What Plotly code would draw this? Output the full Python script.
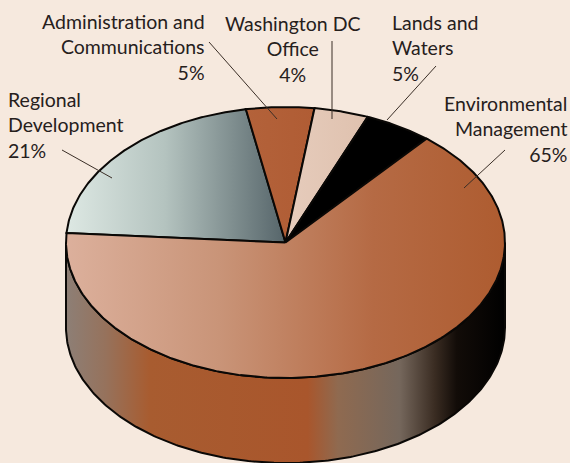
import numpy as np
import plotly.graph_objects as go

# ---- data ----
categories = ["Regional Development", "Administration and Communications",
              "Washington DC Office", "Lands and Waters", "Environmental Management"]
shares = [21, 5, 4, 5, 65]

# ---- styling / layout ----
BG = "#f6e9de"
FONT = "Lato"
FONT_SIZE = 19.5
CX, CY, RX, RY, DEPTH = 285.5, 242.5, 219.5, 135.5, 85
START_DEG = 176
slice_fills = [
    [[0, "#dde8e3"], [0.45, "#b4c3bf"], [1, "#56656a"]],
    [[0, "#b3623a"], [1, "#b05c34"]],
    [[0, "#e6ccbc"], [1, "#dfc1ae"]],
    [[0, "#000000"], [1, "#000000"]],
    [[0, "#dcb09c"], [0.35, "#c99478"], [0.7, "#b56a44"], [1, "#ae5c30"]],
]
wall_fill = [[0, "#8d7f76"], [0.09, "#96725c"], [0.19, "#a85c30"], [0.55, "#a9562c"],
             [0.62, "#8f6a50"], [0.76, "#75675c"], [0.84, "#3a2c22"], [0.89, "#120c08"], [1, "#000000"]]
label_text = ["Regional<br>Development<br>21%", "Administration and<br>Communications<br>5%",
              "Washington DC<br>Office<br>4%", "Lands and<br>Waters<br>5%",
              "Environmental<br>Management<br>65%"]
label_pos = [(8, 125, "left"), (205, 47, "right"), (293, 49, "center"), (392, 48, "left"), (567, 129, "right")]
leaders = [((62, 150), (112, 178)), ((209, 42), (277, 119)), ((332, 41), (332, 119)),
           ((436, 66), (387, 120)), ((505, 150), (464, 188))]


def ell(t, dy=0.0):
    return CX + RX * np.cos(t), CY - RY * np.sin(t) + dy


fig = go.Figure()

# side wall, front half of the ellipse
t_front = np.radians(np.linspace(180, 360, 241))
xu, yu = ell(t_front)
xl, yl = ell(t_front[::-1], DEPTH)
fig.add_trace(go.Scatter(
    x=np.r_[xu, xl, xu[0]], y=np.r_[yu, yl, yu[0]], mode="lines", fill="toself",
    line=dict(color="#0a0806", width=2),
    fillgradient=dict(type="horizontal", colorscale=wall_fill),
    hoverinfo="skip", showlegend=False))

# top face, one wedge per share
angle = START_DEG
for name, share, fill in zip(categories, shares, slice_fills):
    sweep = 360 * share / sum(shares)
    t = np.radians(np.linspace(angle, angle - sweep, max(int(sweep * 2), 4)))
    x, y = ell(t)
    fig.add_trace(go.Scatter(
        x=np.r_[CX, x, CX], y=np.r_[CY, y, CY], mode="lines", fill="toself", name=name,
        line=dict(color="#0a0806", width=2),
        fillgradient=dict(type="horizontal", colorscale=fill),
        hoverinfo="name", showlegend=False))
    angle -= sweep

shapes = [dict(type="line", x0=a[0], y0=a[1], x1=b[0], y1=b[1], layer="above",
               line=dict(color="#3a2e26", width=1)) for a, b in leaders]
annotations = [dict(x=px, y=py, text=txt, showarrow=False, align=al,
                    xanchor=al, yanchor="middle", borderpad=0, borderwidth=0,
                    font=dict(family=FONT, size=FONT_SIZE, color="#26201c"))
               for txt, (px, py, al) in zip(label_text, label_pos)]

fig.update_layout(
    width=570, height=463, margin=dict(l=0, r=0, t=0, b=0),
    paper_bgcolor=BG, plot_bgcolor=BG, shapes=shapes, annotations=annotations,
    xaxis=dict(range=[0, 570], visible=False, fixedrange=True),
    yaxis=dict(range=[463, 0], visible=False, fixedrange=True),
)
fig.write_html("out.html", config={"displayModeBar": False},
               post_script="document.body.style.margin='0';document.body.style.overflow='hidden';"
                           "document.body.style.background='" + BG + "';")
